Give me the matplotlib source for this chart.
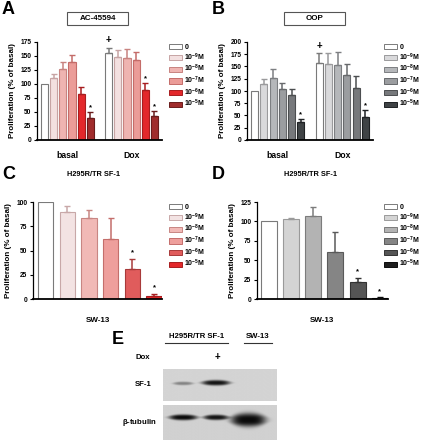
import numpy as np
import matplotlib
matplotlib.use('Agg')
import matplotlib.pyplot as plt
from matplotlib.patches import Rectangle
from matplotlib.lines import Line2D

plt.rcParams['font.family'] = ['Liberation Sans', 'DejaVu Sans']
plt.rcParams['font.weight'] = 'bold'
plt.rcParams['mathtext.fontset'] = 'custom'
plt.rcParams['mathtext.bf'] = 'Liberation Sans:bold'
plt.rcParams['mathtext.rm'] = 'Liberation Sans:bold'

# ---- data ----
doses = ['0', r'10$^{-9}$M', r'10$^{-8}$M', r'10$^{-7}$M', r'10$^{-6}$M', r'10$^{-5}$M']

a_basal = [100, 111, 126, 140, 83, 40]
a_basal_err = [0, 6, 13, 12, 11, 10]
a_dox = [155, 149, 147, 143, 90, 43]
a_dox_err = [10, 11, 16, 14, 11, 9]

b_basal = [100, 115, 127, 105, 91, 36]
b_basal_err = [0, 10, 18, 12, 14, 7]
b_dox = [157, 156, 154, 132, 107, 46]
b_dox_err = [20, 21, 25, 24, 24, 15]

c_vals = [100, 90, 83, 62, 31, 3]
c_err = [0, 6, 9, 22, 10, 2]

d_vals = [100, 103, 107, 60, 22, 1]
d_err = [0, 2, 12, 26, 5, 1]

a_sig_basal = [5]
a_sig_dox = [4, 5]
b_sig_basal = [5]
b_sig_dox = [5]
c_sig = [4, 5]
d_sig = [4, 5]

# western blot band intensities (lanes: H295R/TR SF-1 -Dox, +Dox, SW-13)
sf1_bands = [0.4, 0.95, 0.0]
tubulin_bands = [1.0, 0.95, 1.0]

# ---- styles ----
red_fill = ['white', '#f3e0e0', '#efb4b1', '#eb9c98', '#e3282b', '#a02c2c']
red_edge = ['#7a7a7a', '#c7a4a4', '#c88380', '#c46c69', '#a81d1f', '#6a1c1c']
redc_fill = ['white', '#f3e3e3', '#f1b9b6', '#ee9f9c', '#e05c5c', '#e3282b']
redc_edge = ['#7a7a7a', '#c8a8a8', '#c88683', '#c46e6b', '#a83a3a', '#a81d1f']
grey_fill = ['white', '#d9d9db', '#b5b7ba', '#9b9da0', '#77797c', '#3f4345']
grey_edge = ['#7a7a7a', '#9a9a9c', '#7d7f82', '#67696c', '#4c4e50', '#1f2224']
greyd_fill = ['white', '#d4d4d4', '#b3b3b3', '#858585', '#555555', '#1e1e1e']
greyd_edge = ['#7a7a7a', '#9a9a9a', '#7c7c7c', '#5a5a5a', '#333333', '#0c0c0c']

W, H = 423, 440
fig = plt.figure(figsize=(W / 100, H / 100), dpi=100)


def fax(l, t, r, b):
    return fig.add_axes([l / W, 1 - b / H, (r - l) / W, (b - t) / H])


def style_axis(ax, ymax, step, tick_fs=4.8):
    ax.set_ylim(0, ymax)
    ax.set_yticks(np.arange(0, ymax + 1, step))
    for s in ['top', 'right']:
        ax.spines[s].set_visible(False)
    ax.spines['left'].set_linewidth(0.9)
    ax.spines['bottom'].set_linewidth(1.3)
    ax.tick_params(axis='y', labelsize=tick_fs, length=2.5, width=0.8, pad=1.5)
    ax.tick_params(axis='x', length=0, labelsize=6.2, pad=8)
    ax.set_ylabel('Proliferation (% of basal)', fontsize=5.8, fontweight='bold', labelpad=3)


def draw_bars(ax, x, vals, errs, fills, edges, width):
    for xi, v, e, fc, ec in zip(x, vals, errs, fills, edges):
        ax.bar(xi, v, width, color=fc, edgecolor=ec, linewidth=0.8, zorder=2)
        if e > 0:
            ax.errorbar(xi, v, yerr=[[0], [e]], fmt='none', ecolor=ec, elinewidth=1.1,
                        capsize=2.2, capthick=1.0, zorder=3)


def mark(ax, x, y, s, fs=6):
    ax.text(x, y, s, ha='center', va='bottom', fontsize=fs, clip_on=False)


def legend(ax, fills, edges, x, y):
    handles = [Rectangle((0, 0), 1, 1, fc=f, ec=e, lw=0.7) for f, e in zip(fills, edges)]
    ax.legend(handles, doses, loc='upper left', bbox_to_anchor=(x / W, 1 - y / H),
              bbox_transform=fig.transFigure, frameon=False, fontsize=5,
              handlelength=1.9, handleheight=0.75, handletextpad=0.3,
              labelspacing=0.05, borderpad=0, borderaxespad=0)


def title_box(cx, cy, text):
    fig.patches.append(Rectangle(((cx - 30.5) / W, 1 - (cy + 6.5) / H), 61 / W, 13 / H,
                                 transform=fig.transFigure, fc='white', ec='#555555', lw=0.8))
    fig.text(cx / W, 1 - cy / H, text, ha='center', va='center', fontsize=5.8)


# ---- panel A ----
axA = fax(37, 42, 162, 140)
xb = np.arange(6)
xd = np.arange(6) + 7
draw_bars(axA, xb, a_basal, a_basal_err, red_fill, red_edge, 0.78)
draw_bars(axA, xd, a_dox, a_dox_err, red_fill, red_edge, 0.78)
axA.set_xlim(-0.83, 12.83)
style_axis(axA, 175, 25)
axA.set_xticks([2.5, 9.5])
axA.set_xticklabels(['basal', 'Dox'])
for i in a_sig_basal:
    mark(axA, xb[i], a_basal[i] + a_basal_err[i] + 2, '*', 5.5)
for i in a_sig_dox:
    mark(axA, xd[i], a_dox[i] + a_dox_err[i] + 2, '*', 5.5)
mark(axA, xd[0], a_dox[0] + a_dox_err[0] + 5, '+', 7)
legend(axA, red_fill, red_edge, 169, 44)
title_box(97.5, 18.5, 'AC-45594')

# ---- panel B ----
axB = fax(247, 42, 373, 140)
draw_bars(axB, xb, b_basal, b_basal_err, grey_fill, grey_edge, 0.78)
draw_bars(axB, xd, b_dox, b_dox_err, grey_fill, grey_edge, 0.78)
axB.set_xlim(-0.83, 12.83)
style_axis(axB, 200, 25)
axB.set_xticks([2.5, 9.5])
axB.set_xticklabels(['basal', 'Dox'])
for i in b_sig_basal:
    mark(axB, xb[i], b_basal[i] + b_basal_err[i] + 2, '*', 5.5)
for i in b_sig_dox:
    mark(axB, xd[i], b_dox[i] + b_dox_err[i] + 2, '*', 5.5)
mark(axB, xd[0], b_dox[0] + b_dox_err[0] + 4, '+', 7)
legend(axB, grey_fill, grey_edge, 384, 44)
title_box(314.5, 18.5, 'OOP')

# ---- panel C ----
axC = fax(33, 202, 162, 299)
xc = np.arange(6)
draw_bars(axC, xc, c_vals, c_err, redc_fill, redc_edge, 0.71)
axC.set_xlim(-0.59, 5.37)
style_axis(axC, 100, 25)
axC.set_xticks([2.4])
axC.set_xticklabels(['SW-13'])
axC.tick_params(axis='x', labelsize=5.8, pad=13)
for i in c_sig:
    mark(axC, xc[i], c_vals[i] + c_err[i] + 3, '*', 5.5)
legend(axC, redc_fill, redc_edge, 169, 204)
fig.text(93 / W, 1 - 175 / H, 'H295R/TR SF-1', ha='center', va='center', fontsize=5.3)

# ---- panel D ----
axD = fax(257, 202, 388, 299)
draw_bars(axD, xc, d_vals, d_err, greyd_fill, greyd_edge, 0.72)
axD.set_xlim(-0.52, 5.36)
style_axis(axD, 125, 25)
axD.set_xticks([2.4])
axD.set_xticklabels(['SW-13'])
axD.tick_params(axis='x', labelsize=5.8, pad=13)
for i in d_sig:
    mark(axD, xc[i], d_vals[i] + d_err[i] + 3, '*', 5.5)
legend(axD, greyd_fill, greyd_edge, 384, 204)
fig.text(310 / W, 1 - 175 / H, 'H295R/TR SF-1', ha='center', va='center', fontsize=5.3)

# ---- panel letters ----
for lx, ly, s in [(2, 10, 'A'), (212, 10, 'B'), (2, 174, 'C'), (212, 174, 'D'), (112, 339, 'E')]:
    fig.text(lx / W, 1 - ly / H, s, ha='left', va='center', fontsize=13)

# ---- panel E: western blot ----
lane_x = [0.6, 1.58, 2.55]


def blot(ax, bands, half_w, half_h, yc, bg):
    xs = np.linspace(0, 3.4, 340)
    ys = np.linspace(0, 1, 120)
    X, Y = np.meshgrid(xs, ys)
    dens = np.zeros_like(X)
    for c, inten, hw, hh, y0 in zip(lane_x, bands, half_w, half_h, yc):
        dx = (X - c) / hw
        # band thins towards its ends
        hloc = hh * (1 - 0.4 * dx ** 2).clip(0.35, 1)
        dens += inten * np.exp(-np.abs(dx) ** 4) * np.exp(-np.abs((Y - y0) / hloc) ** 3)
    img = bg - (bg - 0.04) * np.clip(dens, 0, 1)
    ax.imshow(img, cmap='gray', vmin=0, vmax=1, extent=[0, 3.4, 0, 1], origin='lower',
              aspect='auto', interpolation='bilinear')
    ax.set_xlim(0, 3.4)
    ax.set_ylim(0, 1)
    ax.axis('off')


axE1 = fax(163, 369, 277, 401)
blot(axE1, sf1_bands, [0.3, 0.42, 0.4], [0.055, 0.085, 0.07], [0.55, 0.57, 0.56], 0.83)
axE2 = fax(163, 405, 277, 440)
blot(axE2, tubulin_bands, [0.42, 0.37, 0.52], [0.08, 0.075, 0.19], [0.63, 0.63, 0.56], 0.82)

fig.text(197 / W, 1 - 337 / H, 'H295R/TR SF-1', ha='center', va='center', fontsize=5.6)
fig.add_artist(Line2D([165 / W, 228 / W], [1 - 343 / H] * 2, color='#333333', lw=0.8))
fig.text(258 / W, 1 - 337 / H, 'SW-13', ha='center', va='center', fontsize=5.6)
fig.add_artist(Line2D([244 / W, 272 / W], [1 - 343 / H] * 2, color='#333333', lw=0.8))
fig.text(143 / W, 1 - 357 / H, 'Dox', ha='center', va='center', fontsize=5.6)
fig.text(217 / W, 1 - 357 / H, '+', ha='center', va='center', fontsize=7)
fig.text(143 / W, 1 - 384 / H, 'SF-1', ha='center', va='center', fontsize=5.6)
fig.text(139 / W, 1 - 422 / H, r'$\mathrm{\beta}$-tubulin', ha='center', va='center', fontsize=5.6)

fig.savefig('out.png', dpi=100)
